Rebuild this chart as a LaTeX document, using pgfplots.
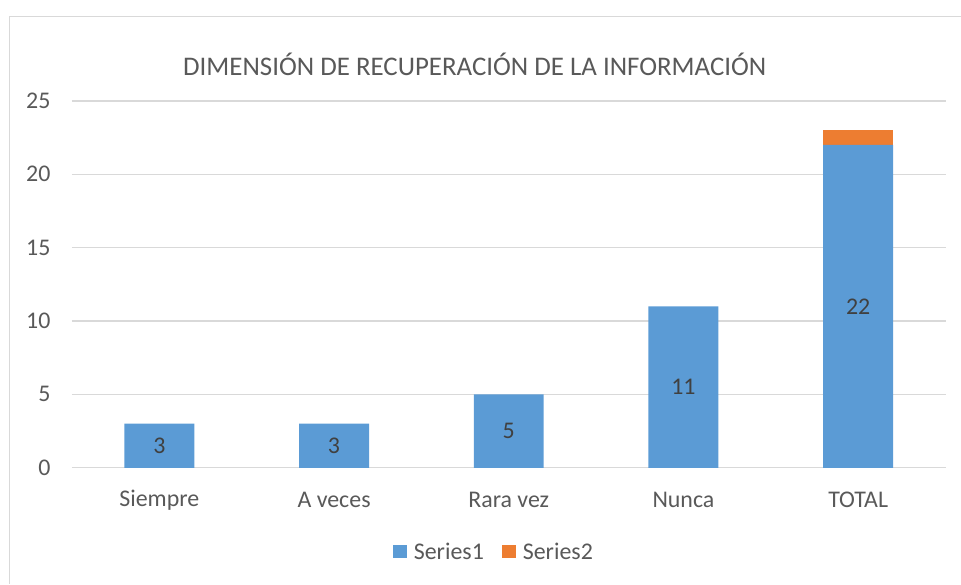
\documentclass[border=0pt]{standalone}
\usepackage{pgfplots}
\pgfplotsset{compat=1.18}
\usepackage{fontspec}
\setmainfont{Carlito}
\definecolor{sblue}{HTML}{5B9BD5}
\definecolor{sorange}{HTML}{ED7D31}
\definecolor{gridc}{HTML}{D9D9D9}
\definecolor{txt}{HTML}{595959}
\definecolor{lbl}{HTML}{404040}
\begin{document}
\begin{tikzpicture}[x=1bp,y=1bp]
\path (0,0) rectangle (961,584);
\draw[gridc, line width=1bp] (9.5,0) -- (9.5,567.5) -- (961,567.5);
\node[txt, font=\fontsize{27}{30}\selectfont] at (475,520) {DIMENSIÓN DE RECUPERACIÓN DE LA INFORMACIÓN};
\begin{axis}[
  at={(72bp,116bp)}, anchor=south west,
  scale only axis, width=874bp, height=367bp,
  ybar stacked, bar width=70bp,
  xmin=-0.5, xmax=4.5, ymin=0, ymax=25,
  ytick={0,5,10,15,20,25},
  xtick={0,1,2,3,4},
  xticklabels={Siempre,A veces,Rara vez,Nunca,TOTAL},
  axis line style={draw=none},
  ymajorgrids, grid style={gridc, line width=1.2bp},
  tick style={draw=none},
  /pgf/number format/assume math mode=true,
  every tick label/.append style={txt, font=\fontsize{24}{27}\selectfont},
  yticklabel style={anchor=east, xshift=-18bp},
  xticklabel style={anchor=center, yshift=-32bp},
  legend style={at={(0.483,-0.229)}, anchor=center, draw=none, legend columns=2,
    font=\fontsize{24}{27}\selectfont, text=txt,
    /tikz/every even column/.append style={column sep=16bp},
    /tikz/every odd column/.append style={column sep=5bp}},
  legend image code/.code={\fill[#1] (0bp,-6.5bp) rectangle (14bp,6.5bp);},
  clip=false,
]
\addplot[fill=sblue, draw=none,
  nodes near coords,
  every node near coord/.append style={anchor=center, lbl, font=\fontsize{24}{27}\selectfont},
] coordinates {(0,3) (1,3) (2,5) (3,11) (4,22)};
\addlegendentry{Series1}
\addplot[fill=sorange, draw=none] coordinates {(0,0) (1,0) (2,0) (3,0) (4,1)};
\addlegendentry{Series2}
\end{axis}
\end{tikzpicture}
\end{document}
